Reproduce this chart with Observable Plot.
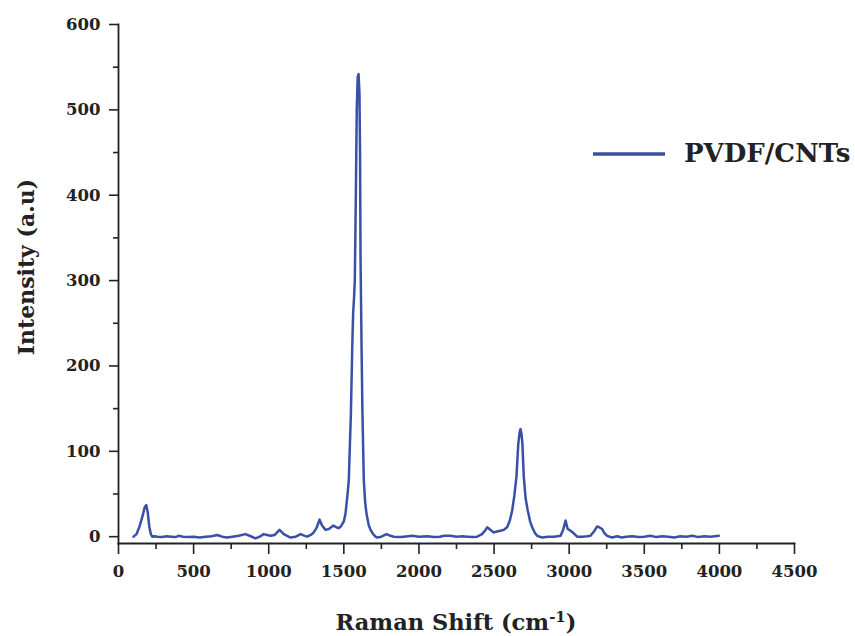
<!DOCTYPE html>
<html>
<head>
<meta charset="utf-8">
<script src="https://cdn.jsdelivr.net/npm/d3@7"></script>
<script src="https://cdn.jsdelivr.net/npm/@observablehq/plot@0.6"></script>
<style>
  html, body { margin: 0; padding: 0; background: #fff; }
  #chart svg { display: block; }
</style>
</head>
<body>
<div id="chart"></div>
<script>
const seriesName = "PVDF/CNTs";
const xLabel = "Raman Shift (cm";
const xLabelSup = "-1";
const yLabel = "Intensity (a.u)";

const shift = [100,120,140,160,175,185,195,205,215,225,240,260,290,320,350,380,400,430,460,500,540,580,620,657,690,720,760,800,845,880,912,940,966,990,1012,1040,1072,1100,1145,1180,1212,1240,1256,1280,1300,1320,1338,1355,1378,1400,1431,1450,1465,1480,1500,1511,1525,1533,1547,1556,1562,1568,1573,1580,1586,1592,1598,1604,1608,1611,1618,1624,1633,1642,1651,1665,1678,1695,1711,1722,1750,1784,1810,1833,1870,1900,1955,2000,2055,2100,2140,2166,2210,2250,2290,2321,2360,2388,2420,2440,2454,2475,2498,2520,2543,2565,2587,2605,2620,2635,2649,2661,2670,2676,2683,2689,2698,2710,2725,2740,2754,2770,2787,2820,2860,2900,2943,2960,2976,2990,3009,3031,3053,3090,3120,3142,3165,3186,3200,3219,3235,3253,3286,3320,3350,3380,3420,3460,3500,3540,3580,3620,3660,3700,3740,3780,3820,3860,3900,3940,3970,3996];
const intensity = [0,3,12,24,35,37,28,12,3,0,0.5,0,-0.5,0.5,0,-0.5,1,0,-0.5,0,-1,0,0.5,2,0,-1,0,1,3,0.5,-2,0,3,2,1,2,8,3,-1,0,3,1,0,2,5,11,20,13,8,9,13,11,10,12,18,27,50,66,144,222,262,280,300,400,500,538,542,520,450,330,222,144,66,40,27,14,8,3,0,-1,0,3,1,0,-0.5,0,1,0,0.5,-0.5,0,1,1,0,0.5,0,-0.5,0,3,7,11,8,5,6,7,8,11,19,30,48,70,108,122,126,120,108,70,45,30,18,11,5,1,-1,0,0,1,8,19,9,7,4,0,0,0.5,1,6,12,11,9,4,1,-1,0.5,-1,0,0.5,-0.5,0,1,-0.5,0.5,0,-1,0.5,0,1,-0.5,0.5,0,0.5,1];

const xTicks = [0,500,1000,1500,2000,2500,3000,3500,4000,4500];
const xMinorTicks = [250,750,1250,1750,2250,2750,3250,3750,4250];
const yTicks = [0,100,200,300,400,500,600];
const yMinorTicks = [50,150,250,350,450,550];

const data = shift.map((s, i) => ({shift: s, intensity: intensity[i]}));

const lineColor = "#3a50a6";
const axisColor = "#222";
const font = "'DejaVu Serif', 'Liberation Serif', serif";

const chart = Plot.plot({
  width: 855,
  height: 636,
  marginLeft: 118,
  marginRight: 61,
  marginTop: 24,
  marginBottom: 93,
  style: {fontFamily: font, fontWeight: "bold", fontSize: "16.5px", color: axisColor, background: "#fff"},
  x: {domain: [0, 4500]},
  y: {domain: [-8, 600]},
  marks: [
    Plot.axisY(yTicks, {tickSize: 9, tickPadding: 9, label: null, tickFormat: "d", strokeWidth: 1.6, stroke: axisColor}),
    Plot.axisY(yMinorTicks, {tickSize: 5, text: null, label: null, strokeWidth: 1.6, stroke: axisColor}),
    Plot.axisX(xTicks, {tickSize: 11, tickPadding: 11, label: null, tickFormat: "d", strokeWidth: 1.6, stroke: axisColor}),
    Plot.axisX(xMinorTicks, {tickSize: 6, text: null, label: null, strokeWidth: 1.6, stroke: axisColor}),
    Plot.frame({anchor: "left", stroke: axisColor, strokeWidth: 1.8}),
    Plot.frame({anchor: "bottom", stroke: axisColor, strokeWidth: 1.8}),
    Plot.line(data, {x: "shift", y: "intensity", stroke: lineColor, strokeWidth: 2.5, strokeLinejoin: "round"})
  ]
});

const svg = d3.select(chart);
// x-axis title
const xt = svg.append("text")
  .attr("x", 456).attr("y", 630)
  .attr("text-anchor", "middle")
  .attr("font-family", font).attr("font-weight", "bold").attr("font-size", 22.5)
  .attr("fill", axisColor);
xt.append("tspan").text(xLabel);
xt.append("tspan").attr("dy", -8).attr("font-size", 15).text(xLabelSup);
xt.append("tspan").attr("dy", 8).text(")");
// y-axis title
svg.append("text")
  .attr("transform", "translate(34,267) rotate(-90)")
  .attr("text-anchor", "middle")
  .attr("font-family", font).attr("font-weight", "bold").attr("font-size", 22)
  .attr("fill", axisColor)
  .text(yLabel);
// legend
svg.append("line")
  .attr("x1", 593).attr("x2", 665).attr("y1", 154).attr("y2", 154)
  .attr("stroke", lineColor).attr("stroke-width", 3.5);
svg.append("text")
  .attr("x", 684).attr("y", 162)
  .attr("text-anchor", "start")
  .attr("font-family", font).attr("font-weight", "bold").attr("font-size", 26)
  .attr("fill", axisColor)
  .text(seriesName);

document.getElementById("chart").append(chart);
</script>
</body>
</html>
